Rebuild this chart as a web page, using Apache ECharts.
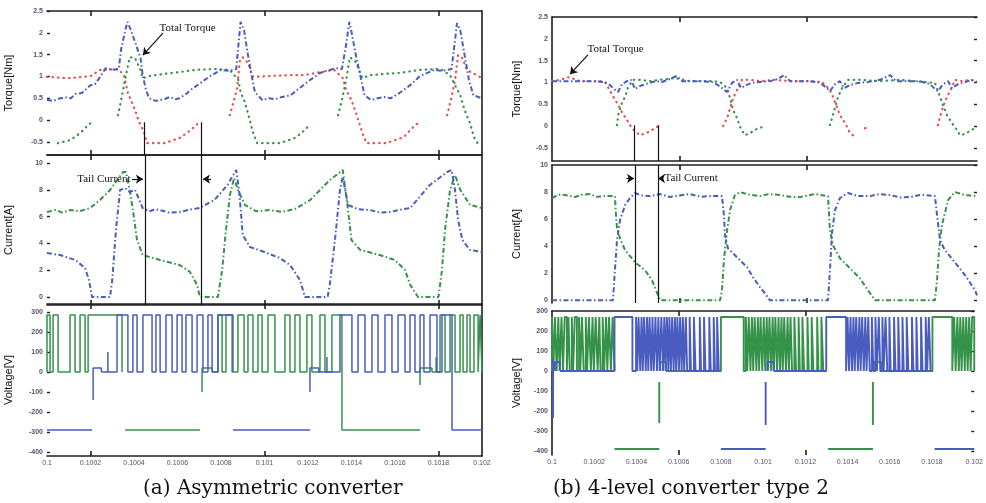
<!DOCTYPE html>
<html>
<head>
<meta charset="utf-8">
<script src="https://cdn.jsdelivr.net/npm/echarts@6/dist/echarts.min.js"></script>
<style>
html,body{margin:0;padding:0;background:#fff;}
#chart{width:986px;height:503px;}
</style>
</head>
<body>
<div id="chart"></div>
<script>
// ---- time axis: milliseconds after t = 0.1 s ----
const xTickLabels = ['0.1','0.1002','0.1004','0.1006','0.1008','0.101','0.1012','0.1014','0.1016','0.1018','0.102'];
const torqueTicks = [-0.5, 0, 0.5, 1, 1.5, 2, 2.5];
const currentTicks = [0, 2, 4, 6, 8, 10];
const voltageTicks = [-400, -300, -200, -100, 0, 100, 200, 300];

// ---- (a) asymmetric converter ----
const aTorqueTotal = [[0,0.46],[0.03,0.44],[0.06,0.50],[0.09,0.52],[0.11,0.50],[0.13,0.60],[0.16,0.62],[0.20,0.80],[0.22,0.82],[0.24,0.96],[0.27,1.19],[0.30,1.15],[0.33,1.17],[0.34,1.60],[0.36,2.06],[0.37,2.25],[0.386,2.06],[0.405,1.79],[0.43,1.42],[0.44,1.03],[0.455,0.69],[0.47,0.50],[0.50,0.44],[0.52,0.46],[0.545,0.49],[0.565,0.53],[0.59,0.48],[0.61,0.50],[0.64,0.60],[0.66,0.69],[0.70,0.83],[0.75,1.01],[0.80,1.15],[0.84,1.13],[0.87,1.17],[0.88,1.72],[0.89,2.25],[0.906,2.06],[0.924,1.49],[0.938,1.10],[0.956,0.64],[0.99,0.46],[1.02,0.50],[1.05,0.48],[1.08,0.53],[1.12,0.57],[1.16,0.73],[1.21,0.92],[1.255,1.08],[1.30,1.15],[1.33,1.19],[1.356,1.17],[1.375,1.72],[1.39,2.25],[1.40,2.02],[1.42,1.49],[1.44,1.03],[1.46,0.57],[1.49,0.46],[1.52,0.50],[1.55,0.53],[1.58,0.50],[1.62,0.62],[1.67,0.80],[1.715,1.01],[1.78,1.15],[1.82,1.13],[1.86,1.17],[1.876,1.83],[1.885,2.22],[1.90,2.06],[1.92,1.49],[1.94,0.92],[1.96,0.57],[2.0,0.50]];
const aTorqueRed = [[0,0.99],[0.106,0.96],[0.20,1.01],[0.244,1.15],[0.326,1.17],[0.354,1.03],[0.372,0.62],[0.39,0.41],[0.405,0.23],[0.42,0.0],[0.446,-0.28],[0.46,-0.53],[0.54,-0.53],[0.61,-0.41],[0.66,-0.23],[0.70,-0.05],null,[0.84,0.11],[0.86,0.46],[0.874,0.73],[0.887,1.38],[0.90,1.44],[0.924,1.31],[0.947,0.99],[1.025,1.01],[1.117,1.03],[1.186,1.03],[1.255,1.10],[1.32,1.15],[1.36,0.96],[1.375,0.69],[1.40,0.46],[1.416,0.23],[1.453,-0.34],[1.47,-0.53],[1.56,-0.53],[1.64,-0.39],[1.68,-0.18],[1.71,-0.05],null,[1.84,0.11],[1.86,0.53],[1.876,0.92],[1.89,1.49],[1.91,1.42],[1.93,1.15],[1.99,0.99],[2.0,0.99]];
const aTorqueGreen = [[0.05,-0.53],[0.106,-0.46],[0.152,-0.30],[0.19,-0.11],[0.207,-0.05],null,[0.326,0.11],[0.336,0.34],[0.35,0.69],[0.363,1.03],[0.38,1.44],[0.405,1.42],[0.43,1.15],[0.44,0.96],[0.47,1.01],[0.54,1.06],[0.61,1.10],[0.68,1.15],[0.77,1.17],[0.84,1.15],[0.88,0.92],[0.89,0.64],[0.906,0.46],[0.92,0.23],[0.947,-0.28],[0.966,-0.53],[1.07,-0.53],[1.14,-0.41],[1.186,-0.23],[1.21,-0.09],null,[1.338,0.11],[1.356,0.46],[1.375,0.92],[1.393,1.44],[1.42,1.33],[1.45,0.96],[1.485,1.03],[1.554,1.06],[1.62,1.08],[1.715,1.15],[1.81,1.17],[1.853,1.03],[1.876,0.80],[1.90,0.57],[1.92,0.23],[1.945,-0.07],[1.963,-0.39],[1.98,-0.53]];
const aCurrentBlue = [[0,3.28],[0.06,3.13],[0.13,2.76],[0.175,2.16],[0.193,1.27],[0.207,0],[0.29,0],[0.30,1.27],[0.317,5.0],[0.336,7.99],[0.359,8.13],[0.38,7.84],[0.405,7.99],[0.44,6.64],[0.47,6.40],[0.50,6.55],[0.52,6.49],[0.56,6.30],[0.61,6.34],[0.65,6.50],[0.70,6.64],[0.77,7.24],[0.83,8.36],[0.87,9.48],[0.883,7.99],[0.90,4.63],[0.933,3.73],[1.0,3.36],[1.07,2.91],[1.117,2.39],[1.163,1.27],[1.186,0],[1.29,0],[1.30,0.90],[1.324,4.25],[1.347,7.99],[1.36,8.96],[1.384,6.87],[1.43,6.55],[1.485,6.49],[1.53,6.30],[1.577,6.34],[1.62,6.50],[1.67,6.64],[1.76,8.36],[1.84,9.33],[1.86,9.48],[1.876,7.99],[1.89,5.75],[1.91,4.25],[1.945,3.51],[2.0,3.36]];
const aCurrentGreen = [[0,6.34],[0.04,6.50],[0.07,6.30],[0.106,6.49],[0.15,6.40],[0.198,6.64],[0.244,7.24],[0.29,7.99],[0.35,9.33],[0.363,9.33],[0.38,7.99],[0.395,6.49],[0.414,4.25],[0.44,3.13],[0.52,2.76],[0.61,2.39],[0.657,1.87],[0.69,0.90],[0.703,0],[0.786,0],[0.805,2.01],[0.823,5.0],[0.841,7.61],[0.86,8.88],[0.878,7.99],[0.91,6.87],[0.96,6.40],[1.025,6.49],[1.08,6.35],[1.14,6.57],[1.21,7.24],[1.30,8.73],[1.36,9.48],[1.384,6.49],[1.40,4.25],[1.44,3.51],[1.53,3.13],[1.60,2.76],[1.646,2.01],[1.67,0.90],[1.706,0],[1.80,0],[1.816,2.01],[1.83,5.0],[1.853,7.99],[1.876,9.10],[1.90,7.99],[1.945,6.87],[2.0,6.64]];
// voltage: chop groups [start, end, [on, off, on, off, ...]], negative-bus intervals, vertical strokes, short steps
const aVoltBlue = {
  chops: [[0.25, 0.855, [0.322,0.372, 0.395,0.414, 0.441,0.483, 0.501,0.52, 0.547,0.575, 0.598,0.621, 0.639,0.667, 0.69,0.717, 0.74,0.759, 0.786,0.855]],
          [1.25, 1.862, [1.347,1.402, 1.430,1.462, 1.494,1.522, 1.554,1.586, 1.614,1.646, 1.669,1.692, 1.715,1.733, 1.761,1.793, 1.816,1.862]]],
  neg: [[0,0.207],[0.855,1.209],[1.862,2.0]],
  spikes: [[0.212,-140,20],[0.28,0,100],[1.209,0,-100],[1.287,0,75],[1.862,285,-290]],
  steps: [[0.212,0.25,20],[1.209,1.25,20]]
};
const aVoltGreen = {
  chops: [[0, 0.345, [0,0.014, 0.028,0.051, 0.106,0.129, 0.152,0.175, 0.189,0.345]],
          [0.76, 1.356, [0.786,0.805, 0.823,0.851, 0.878,0.906, 0.924,0.947, 0.970,0.989, 1.016,1.048, 1.094,1.117, 1.140,1.163, 1.195,1.218, 1.255,1.278, 1.310,1.356]],
          [1.77, 2.0, [1.807,1.83, 1.853,1.876, 1.899,1.913, 1.931,1.945, 1.963,1.982, 1.991,2.0]]],
  neg: [[0.359,0.703],[1.356,1.715]],
  spikes: [[0.713,0,-100],[1.356,285,-290],[1.715,0,-65],[1.789,0,75]],
  steps: [[0.713,0.76,20],[1.715,1.77,20]]
};
const aVoltHigh = 285, aVoltLow = -290;

// ---- (b) 4-level converter type 2 ----
const bTorqueTotal = [[0,1.03],[0.085,1.03],[0.179,1.03],[0.249,1.01],[0.273,0.94],[0.292,0.85],[0.311,0.78],[0.329,0.96],[0.353,1.03],[0.372,1.06],[0.391,0.85],[0.414,0.92],[0.438,0.96],[0.461,0.99],[0.489,1.03],[0.518,1.01],[0.555,1.08],[0.588,1.15],[0.612,1.03],[0.696,1.03],[0.753,1.01],[0.781,0.94],[0.80,0.87],[0.824,0.78],[0.847,0.99],[0.871,1.06],[0.889,0.87],[0.913,0.94],[0.941,0.99],[0.979,1.01],[1.026,1.03],[1.064,1.08],[1.092,1.17],[1.12,1.03],[1.214,1.03],[1.261,0.99],[1.289,0.89],[1.308,0.80],[1.332,0.96],[1.355,1.03],[1.374,0.87],[1.402,0.94],[1.44,0.99],[1.487,1.01],[1.544,1.06],[1.591,1.17],[1.619,1.03],[1.732,1.03],[1.779,0.96],[1.798,0.87],[1.816,0.80],[1.84,0.96],[1.864,1.03],[1.882,0.87],[1.911,0.96],[1.944,1.01],[1.976,1.06],[2.0,1.01]];
const bTorqueRed = [[0,1.03],[0.038,1.06],[0.08,1.12],[0.132,1.03],[0.226,1.03],[0.249,1.01],[0.264,0.89],[0.282,0.73],[0.306,0.53],[0.329,0.32],[0.353,0.14],[0.376,-0.05],[0.414,-0.21],[0.452,-0.14],[0.485,-0.05],[0.499,0],null,[0.805,0],[0.824,0.18],[0.838,0.41],[0.852,0.64],[0.871,0.83],[0.894,1.06],[0.932,1.06],[0.979,1.03],[1.049,1.06],[1.12,1.03],[1.214,1.03],[1.271,1.01],[1.308,0.83],[1.322,0.67],[1.341,0.44],[1.355,0.25],[1.379,0.07],[1.402,-0.16],[1.416,-0.21],null,[1.473,-0.05],[1.496,-0.02],null,[1.816,0.02],[1.826,0.21],[1.84,0.44],[1.859,0.67],[1.882,0.89],[1.896,1.06],[1.929,1.03],[1.967,1.06],[2.0,1.03]];
const bTorqueGreen = [[0.306,0.02],[0.311,0.25],[0.329,0.53],[0.344,0.67],[0.358,0.89],[0.381,1.06],[0.414,1.06],[0.461,1.03],[0.508,1.06],[0.579,1.10],[0.649,1.03],[0.744,1.03],[0.791,1.01],[0.824,0.87],[0.838,0.64],[0.852,0.37],[0.871,0.18],[0.885,-0.02],[0.908,-0.21],[0.932,-0.16],[0.969,-0.05],[0.993,-0.02],null,[1.308,0.02],[1.322,0.25],[1.346,0.67],[1.365,0.87],[1.393,1.06],[1.449,1.06],[1.544,1.03],[1.638,1.06],[1.755,1.01],[1.802,0.99],[1.826,0.67],[1.84,0.48],[1.859,0.25],[1.882,0.07],[1.906,-0.09],[1.92,-0.21],[1.944,-0.18],[1.967,-0.11],[2.0,-0.02]];
const bCurrentBlue = [[0,0],[0.287,0],[0.296,2.22],[0.306,4.44],[0.32,5.93],[0.344,7.04],[0.367,7.56],[0.391,7.93],[0.42,7.75],[0.461,7.70],[0.51,7.85],[0.555,7.63],[0.60,7.75],[0.649,7.85],[0.70,7.65],[0.744,7.70],[0.80,7.70],[0.809,6.30],[0.814,4.81],[0.828,3.85],[0.861,3.33],[0.918,2.44],[0.946,1.70],[0.979,0.96],[1.002,0.52],[1.026,0],[1.299,0],[1.308,2.22],[1.318,5.04],[1.332,6.67],[1.355,7.56],[1.393,7.93],[1.44,7.70],[1.496,7.70],[1.54,7.85],[1.591,7.78],[1.64,7.60],[1.685,7.63],[1.74,7.80],[1.802,7.70],[1.812,6.30],[1.826,4.44],[1.849,3.70],[1.896,2.81],[1.944,1.85],[1.991,0.74],[2.0,0.37]];
const bCurrentGreen = [[0,7.56],[0.03,7.80],[0.061,7.78],[0.108,7.63],[0.14,7.80],[0.179,7.85],[0.21,7.65],[0.249,7.70],[0.296,7.70],[0.301,6.30],[0.306,5.33],[0.32,4.59],[0.344,3.70],[0.391,2.81],[0.438,2.22],[0.471,1.48],[0.499,0.37],[0.508,0],[0.791,0],[0.80,0.74],[0.809,2.96],[0.824,5.19],[0.838,6.67],[0.861,7.78],[0.885,8.0],[0.93,7.80],[0.979,7.70],[1.02,7.85],[1.073,7.78],[1.12,7.65],[1.167,7.63],[1.238,7.85],[1.299,7.70],[1.308,5.19],[1.322,4.07],[1.355,3.11],[1.402,2.37],[1.449,1.63],[1.487,0.74],[1.52,0],[1.802,0],[1.812,1.48],[1.821,3.70],[1.835,5.56],[1.864,7.41],[1.896,8.0],[1.944,7.78],[2.0,7.70]];
const bVoltGreen = {
  chops: [[0, 0.296, [0,0.006, 0.014,0.022, 0.03,0.036, 0.045,0.052, 0.06,0.07, 0.078,0.084, 0.094,0.1, 0.108,0.118, 0.128,0.134, 0.142,0.15, 0.16,0.166, 0.175,0.184, 0.192,0.198, 0.207,0.216, 0.224,0.23, 0.24,0.247, 0.256,0.262, 0.27,0.279, 0.287,0.296]],
          [0.54, 1.299, [0.800,0.908, 0.918,0.925, 0.932,0.94, 0.947,0.953, 0.96,0.968, 0.975,0.981, 0.988,0.996, 1.003,1.01, 1.017,1.023, 1.03,1.038, 1.045,1.051, 1.058,1.066, 1.073,1.08, 1.087,1.093, 1.1,1.108, 1.116,1.122, 1.13,1.137, 1.148,1.156, 1.168,1.174, 1.186,1.194, 1.21,1.216, 1.23,1.238, 1.256,1.262, 1.276,1.285]],
          [1.56, 2.0, [1.802,1.896, 1.905,1.912, 1.92,1.927, 1.934,1.94, 1.948,1.955, 1.962,1.969, 1.976,1.983, 1.99,2.0]]],
  neg: [[0.296,0.508],[1.308,1.52]],
  spikes: [[0.508,-55,-260],[1.52,-55,-270]],
  steps: [[0.513,0.54,45],[1.525,1.56,45]]
};
const bVoltBlue = {
  chops: [[0.038, 0.8, [0.296,0.381, 0.398,0.404, 0.41,0.418, 0.424,0.43, 0.436,0.444, 0.45,0.456, 0.462,0.47, 0.476,0.482, 0.49,0.497, 0.504,0.51, 0.518,0.526, 0.532,0.538, 0.544,0.551, 0.556,0.563, 0.569,0.576, 0.582,0.588, 0.594,0.601, 0.607,0.614, 0.62,0.626, 0.634,0.64, 0.652,0.658, 0.672,0.68, 0.7,0.706, 0.72,0.727, 0.745,0.752, 0.766,0.772, 0.782,0.79]],
          [1.05, 1.802, [1.299,1.393, 1.4,1.407, 1.414,1.421, 1.428,1.434, 1.441,1.449, 1.456,1.462, 1.469,1.477, 1.484,1.49, 1.498,1.505, 1.515,1.522, 1.532,1.539, 1.548,1.555, 1.565,1.571, 1.58,1.588, 1.598,1.604, 1.62,1.627, 1.64,1.647, 1.66,1.666, 1.68,1.688, 1.705,1.712, 1.726,1.732, 1.748,1.755, 1.77,1.777, 1.785,1.793]]],
  neg: [[0.8,1.012],[1.812,2.0]],
  spikes: [[0.005,65,-235],[1.012,-55,-270]],
  steps: [[0.014,0.038,45],[1.02,1.05,45]]
};
const bVoltHigh = 270, bVoltLow = -390;

// ---- styling ----
const BLUE = '#4a5cc0', GREEN = '#35924a', RED = '#ee4b4b', INK = '#1e1e1e';
const LABEL_COLOR = '#5a4e6e';

// builds the step trace of one phase voltage
function voltageTrace(spec, high, low) {
  const d = [];
  spec.chops.forEach(([g0, g1, p]) => {
    d.push([g0, 0]);
    for (let i = 0; i < p.length; i += 2) {
      d.push([p[i], 0], [p[i], high], [p[i + 1], high], [p[i + 1], 0]);
    }
    d.push([g1, 0], null);
  });
  spec.neg.forEach(([a, b]) => d.push([a, low], [b, low], null));
  spec.spikes.forEach(([t, v1, v2]) => d.push([t, v1], [t, v2], null));
  spec.steps.forEach(([a, b, v]) => d.push([a, 0], [a, v], [b, v], [b, 0], null));
  return d;
}

const panels = [
  { left: 47, width: 435, side: 'a', tickIdx: [1, 5, 9] },
  { left: 552, width: 425, side: 'b', tickIdx: [3, 6] }
];
// [top, height, min, max, fine step, tick labels, name, frame flags]
const rows = {
  a: [
    [11, 144, -0.8, 2.5, 0.1, torqueTicks, 'Torque[Nm]', {bottom: true}],
    [155, 150, -0.6, 10.6, 0.2, currentTicks, 'Current[A]', {bottom: true}],
    [304, 152, -420, 340, 20, voltageTicks, 'Voltage[V]', {bottom: true}]
  ],
  b: [
    [17, 144, -0.8, 2.5, 0.1, torqueTicks, 'Torque[Nm]', {bottom: true}],
    [165, 138, -0.2, 10, 0.2, currentTicks, 'Current[A]', {bottom: false}],
    [311, 144, -420, 300, 20, voltageTicks, 'Voltage[V]', {bottom: false}]
  ]
};

const grid = [], xAxis = [], yAxis = [], dataAxes = [];
panels.forEach(pn => {
  rows[pn.side].forEach((r, ri) => {
    const [top, height, min, max, step, ticks, name, frame] = r;
    const gi = grid.length;
    grid.push({ left: pn.left, top: top, width: pn.width, height: height, containLabel: false });
    const lineStyle = { color: INK, width: 1.6 };
    // data x axis (bottom)
    const xi = xAxis.length;
    xAxis.push({
      type: 'value', gridIndex: gi, min: 0, max: 2, interval: 0.2, position: 'bottom',
      axisLine: { show: frame.bottom, onZero: false, lineStyle },
      axisTick: { show: false }, splitLine: { show: false },
      axisLabel: {
        show: ri === 2, fontSize: 7, color: LABEL_COLOR, margin: 4,
        fontFamily: 'Liberation Sans',
        formatter: v => xTickLabels[Math.round(v / 0.2)]
      }
    });
    // frame top with sparse inner ticks
    xAxis.push({
      type: 'category', gridIndex: gi, data: xTickLabels, boundaryGap: false, position: 'top',
      axisLine: { show: true, onZero: false, lineStyle },
      axisTick: { show: true, inside: true, length: 5, interval: i => pn.tickIdx.includes(i), lineStyle: { color: INK, width: 1.6 } },
      axisLabel: { show: false }, splitLine: { show: false }
    });
    xAxis.push({
      type: 'category', gridIndex: gi, data: xTickLabels, boundaryGap: false, position: 'bottom',
      axisLine: { show: false, onZero: false },
      axisTick: { show: true, inside: true, length: 5, interval: i => pn.tickIdx.includes(i), lineStyle: { color: INK, width: 1.6 } },
      axisLabel: { show: false }, splitLine: { show: false }
    });
    // value y axis with labels
    const yi = yAxis.length;
    yAxis.push({
      type: 'value', gridIndex: gi, min: min, max: max, interval: step, position: 'left',
      name: name, nameLocation: 'middle', nameGap: pn.side === 'a' ? 33 : 30,
      nameTextStyle: { fontFamily: 'Liberation Sans', fontSize: 11, color: '#111' },
      axisLine: { show: pn.side === 'b', onZero: false, lineStyle },
      axisTick: { show: false }, splitLine: { show: false },
      axisLabel: {
        fontSize: 7, color: LABEL_COLOR, margin: 4, fontFamily: 'Liberation Sans', fontWeight: 'bold',
        formatter: v => { const t = ticks.find(k => Math.abs(k - v) < step / 2); return t === undefined ? '' : String(t); }
      }
    });
    // tick marks at the labelled values
    const n = Math.round((max - min) / step) + 1;
    const cats = Array.from({ length: n }, (_, k) => +(min + k * step).toFixed(3));
    yAxis.push({
      type: 'category', gridIndex: gi, data: cats, boundaryGap: false,
      position: pn.side === 'a' ? 'left' : 'right',
      axisLine: { show: false, onZero: false },
      axisTick: { show: true, inside: true, length: 3, interval: i => ticks.some(k => Math.abs(k - cats[i]) < step / 2), lineStyle: { color: INK, width: 1.4 } },
      axisLabel: { show: false }, splitLine: { show: false }
    });
    if (pn.side === 'a') {
      // right frame edge
      yAxis.push({
        type: 'value', gridIndex: gi, min: min, max: max, position: 'right',
        axisLine: { show: true, onZero: false, lineStyle },
        axisTick: { show: false }, axisLabel: { show: false }, splitLine: { show: false }
      });
    }
    dataAxes.push({ xi, yi });
  });
});

const dotted = (color) => ({ color, width: 2.2, type: [0.5, 5], cap: 'round' });
const dashDot = (color) => ({ color, width: 2, type: [5, 2.5, 1.5, 2.5] });
const solid = (color, w) => ({ color, width: w || 1.4 });

function line(ax, data, style, z, extra) {
  return Object.assign({
    type: 'line', xAxisIndex: dataAxes[ax].xi, yAxisIndex: dataAxes[ax].yi,
    data: data, showSymbol: false, symbol: 'none', lineStyle: style, z: z || 2,
    connectNulls: false, animation: false, silent: true
  }, extra || {});
}

const annoLine = { color: '#111', width: 1.2, type: 'solid' };
const annoText = { fontFamily: 'Liberation Serif', fontSize: 11, color: '#111' };
function textMark(coord, text, pos) {
  return {
    coord, symbol: 'rect', symbolSize: 1, itemStyle: { color: 'rgba(0,0,0,0)' },
    label: Object.assign({ show: true, position: pos, distance: 1, formatter: text }, annoText)
  };
}
function arrow(from, to) {
  return [{ coord: from, symbol: 'none' }, { coord: to, symbol: 'arrow' }];
}
function segment(from, to) {
  return [{ coord: from, symbol: 'none' }, { coord: to, symbol: 'none' }];
}
function marks(lines, texts) {
  return {
    markLine: { silent: true, animation: false, symbol: ['none', 'none'], symbolSize: 7, label: { show: false }, lineStyle: annoLine, data: lines },
    markPoint: { silent: true, animation: false, data: texts }
  };
}

// tail-current window (ms)
const aTail = [0.446, 0.708];
const bTail = [0.386, 0.499];

const series = [
  // (a) torque
  line(0, aTorqueRed, dotted(RED), 2),
  line(0, aTorqueGreen, dotted(GREEN), 2),
  line(0, aTorqueTotal, dashDot(BLUE), 3, marks(
    [arrow([0.533, 1.995], [0.441, 1.49]), segment([aTail[0], -0.05], [aTail[0], -0.8]), segment([aTail[1], -0.05], [aTail[1], -0.8])],
    [textMark([0.51, 2.11], 'Total Torque', 'right')])),
  // (a) current
  line(1, aCurrentGreen, dashDot(GREEN), 2),
  line(1, aCurrentBlue, dashDot(BLUE), 3, marks(
    [{ xAxis: aTail[0] }, { xAxis: aTail[1] }, arrow([0.391, 8.8], [0.441, 8.8]), arrow([0.754, 8.8], [0.717, 8.8])],
    [textMark([0.391, 8.8], 'Tail Current', 'left')])),
  // (a) voltage
  line(2, voltageTrace(aVoltGreen, aVoltHigh, aVoltLow), solid(GREEN, 1.5), 2),
  line(2, voltageTrace(aVoltBlue, aVoltHigh, aVoltLow), solid(BLUE, 1.5), 3),
  // (b) torque
  line(3, bTorqueRed, dotted(RED), 2),
  line(3, bTorqueGreen, dotted(GREEN), 2),
  line(3, bTorqueTotal, dashDot(BLUE), 3, marks(
    [arrow([0.169, 1.63], [0.085, 1.19]), segment([bTail[0], 0.02], [bTail[0], -0.8]), segment([bTail[1], 0.02], [bTail[1], -0.8])],
    [textMark([0.16, 1.77], 'Total Torque', 'right')])),
  // (b) current
  line(4, bCurrentGreen, dashDot(GREEN), 2),
  line(4, bCurrentBlue, dashDot(BLUE), 3, marks(
    [{ xAxis: bTail[0] }, { xAxis: bTail[1] }, arrow([0.35, 9.0], [0.386, 9.0]), arrow([0.522, 9.0], [0.499, 9.0])],
    [textMark([0.522, 9.0], 'Tail Current', 'right')])),
  // (b) voltage
  line(5, voltageTrace(bVoltGreen, bVoltHigh, bVoltLow), solid(GREEN, 1.9), 2),
  line(5, voltageTrace(bVoltBlue, bVoltHigh, bVoltLow), solid(BLUE, 1.9), 3)
];

const chart = echarts.init(document.getElementById('chart'), null, { renderer: 'canvas' });
chart.setOption({
  animation: false,
  backgroundColor: '#ffffff',
  title: [
    { text: '(a) Asymmetric converter', left: 138, top: 474, textStyle: { fontFamily: 'DejaVu Serif', fontSize: 20, fontWeight: 'normal', color: '#111' } },
    { text: '(b) 4-level converter type 2', left: 548, top: 474, textStyle: { fontFamily: 'DejaVu Serif', fontSize: 20, fontWeight: 'normal', color: '#111' } }
  ],
  grid, xAxis, yAxis, series
});
</script>
</body>
</html>
